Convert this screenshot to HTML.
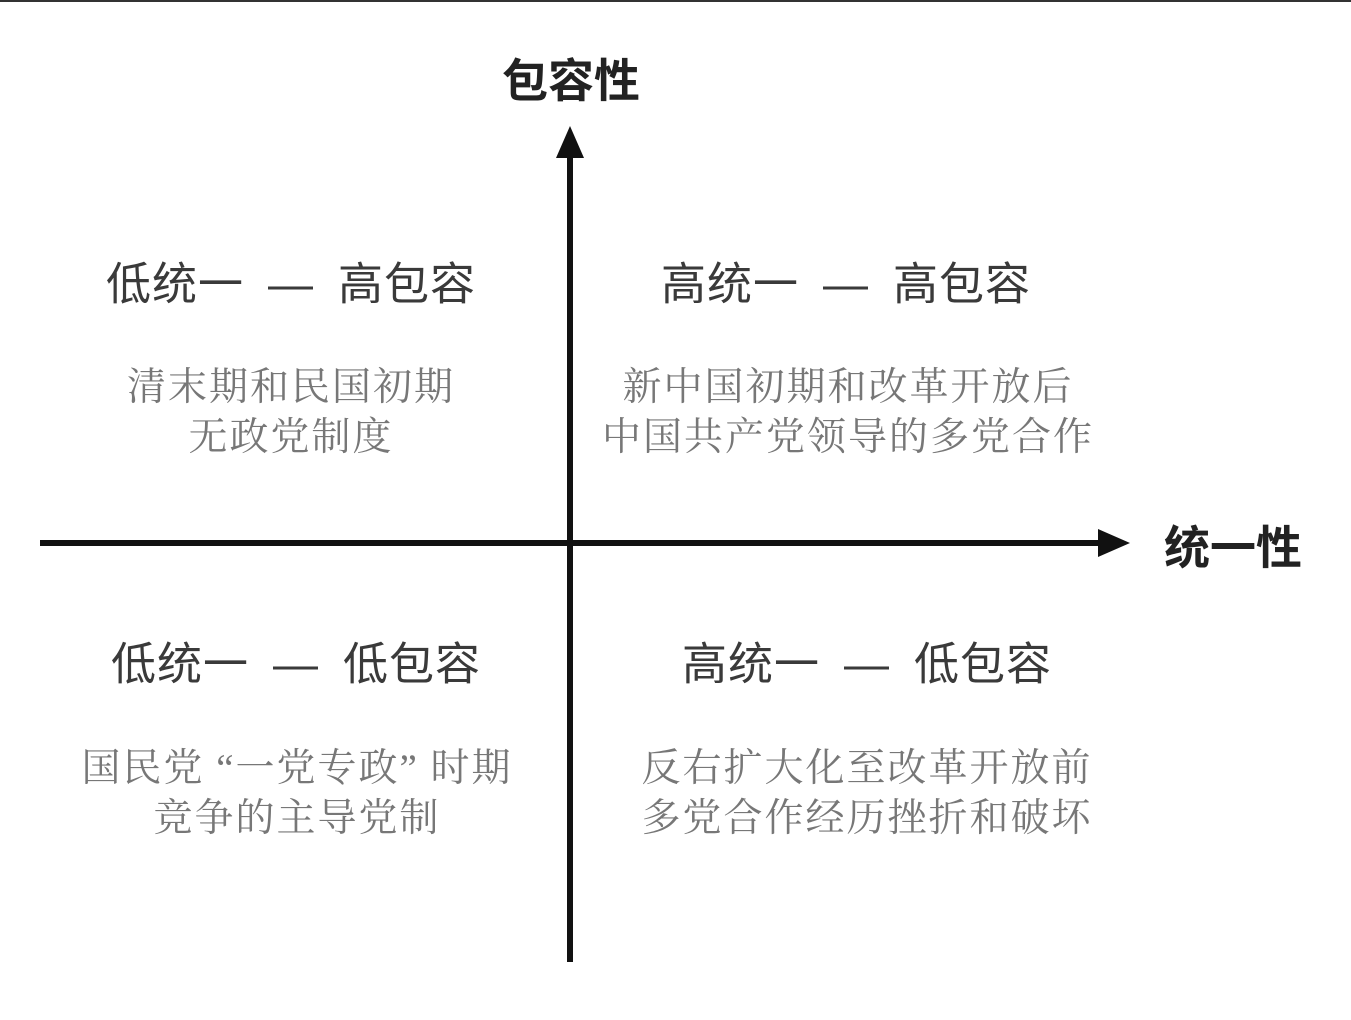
<!DOCTYPE html>
<html><head><meta charset="utf-8"><style>
html,body{margin:0;padding:0;background:#fff;}
body{width:1351px;height:1020px;position:relative;overflow:hidden;}
.t{position:absolute;transform:translate(-50%,-50%);white-space:nowrap;}
.h{font-family:"Liberation Sans","Noto Sans CJK SC",sans-serif;font-size:45px;color:#3a3a3a;letter-spacing:1px;}
.h i{font-style:normal;display:inline-block;margin:0 24px;}
.b{font-family:"Liberation Serif","Noto Serif CJK SC",serif;font-size:39px;color:#777;line-height:50px;text-align:center;letter-spacing:2px;}
.ax{font-family:"Liberation Sans","Noto Sans CJK SC",sans-serif;font-size:46px;font-weight:bold;color:#222;}
</style></head><body>
<div style="position:absolute;left:0;top:0;width:1351px;height:2px;background:#333"></div>
<svg width="1351" height="1020" style="position:absolute;left:0;top:0">
<line x1="570" y1="150" x2="570" y2="962" stroke="#111" stroke-width="6"/>
<polygon points="570,126 556,158 584,158" fill="#111"/>
<line x1="40" y1="543" x2="1105" y2="543" stroke="#111" stroke-width="6"/>
<polygon points="1130,543 1098,529 1098,557" fill="#111"/>
</svg>
<div class="t ax" style="left:571px;top:78px">包容性</div>
<div class="t ax" style="left:1233px;top:545px">统一性</div>
<div class="t h" style="left:291px;top:280px">低统一<i>—</i>高包容</div>
<div class="t h" style="left:846px;top:280px">高统一<i>—</i>高包容</div>
<div class="t h" style="left:296px;top:660px">低统一<i>—</i>低包容</div>
<div class="t h" style="left:867px;top:660px">高统一<i>—</i>低包容</div>
<div class="t b" style="left:291px;top:413px">清末期和民国初期<br>无政党制度</div>
<div class="t b" style="left:848px;top:413px">新中国初期和改革开放后<br>中国共产党领导的多党合作</div>
<div class="t b" style="left:297px;top:794px">国民党 “一党专政” 时期<br>竞争的主导党制</div>
<div class="t b" style="left:867px;top:794px">反右扩大化至改革开放前<br>多党合作经历挫折和破坏</div>
</body></html>
